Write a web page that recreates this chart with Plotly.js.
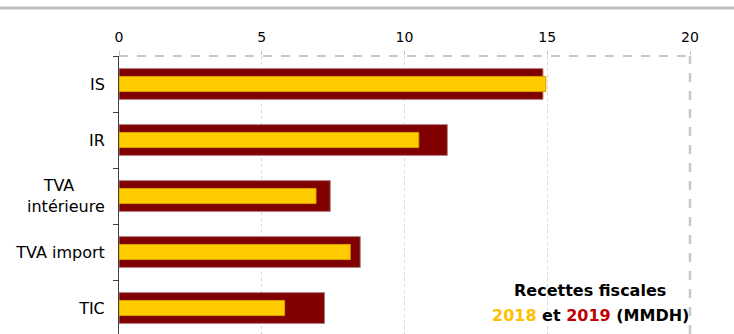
<!DOCTYPE html>
<html>
<head>
<meta charset="utf-8">
<script src="https://cdn.plot.ly/plotly-3.0.1.min.js"></script>
<style>html,body{margin:0;padding:0;background:#fff;}#chart{width:734px;height:334px;}</style>
</head>
<body>
<div id="chart"></div>
<script>
const categories = ["IS", "IR", "TVA\u00a0\u00a0\u00a0\u00a0\u00a0\u00a0<br>intérieure", "TVA import", "TIC"];
const values2019 = [14.85, 11.5, 7.4, 8.45, 7.2];
const values2018 = [14.95, 10.5, 6.9, 8.1, 5.8];
const xTicks = [0, 5, 10, 15, 20];

const traces = [
  {
    type: "bar", orientation: "h", name: "2019",
    y: categories, x: values2019, width: 0.55,
    marker: {color: "#800000", line: {color: "#b08080", width: 1}},
    hoverinfo: "x"
  },
  {
    type: "bar", orientation: "h", name: "2018",
    y: categories, x: values2018, width: 0.27,
    marker: {color: "#FFCC00", line: {color: "#d9a000", width: 1}},
    hoverinfo: "x"
  }
];

const annFont = {family: "DejaVu Sans, sans-serif", size: 16, color: "#000", weight: "bold"};

const layout = {
  width: 734, height: 334,
  margin: {l: 119, r: 44, t: 56, b: 0},
  paper_bgcolor: "#fff", plot_bgcolor: "#fff",
  barmode: "overlay",
  showlegend: false,
  font: {family: "DejaVu Sans, sans-serif", size: 16, color: "#000"},
  xaxis: {
    side: "top", range: [0, 20], tickvals: xTicks, ticktext: xTicks.map(String),
    showgrid: true, gridcolor: "#d9d9d9", griddash: "dot", gridwidth: 1,
    zeroline: false, showline: false,
    ticks: "outside", ticklen: 4, tickcolor: "#bfbfbf",
    ticklabelstandoff: 3,
    tickfont: {size: 14}
  },
  yaxis: {
    type: "category", range: [4.464, -0.5],
    showline: true, linecolor: "#404040", linewidth: 1,
    ticks: "outside", ticklen: 5, tickcolor: "#404040", tickson: "boundaries",
    ticklabelstandoff: 10,
    showgrid: false, zeroline: false,
    tickfont: {size: 16}
  },
  shapes: [
    {type: "line", xref: "paper", yref: "paper", x0: -0.21, x1: 1.08, y0: 1.173, y1: 1.173,
     line: {color: "#bfbfbf", width: 3}},
    {type: "line", xref: "paper", yref: "paper", x0: 0, x1: 1, y0: 1, y1: 1,
     line: {color: "#c8c8c8", width: 2, dash: "dash"}},
    {type: "line", xref: "paper", yref: "paper", x0: 1, x1: 1, y0: 0, y1: 1,
     line: {color: "#c8c8c8", width: 2.5, dash: "dash"}}
  ],
  annotations: [
    {xref: "paper", yref: "paper", x: 0.825, y: 0.1547, xanchor: "center", yanchor: "middle",
     showarrow: false, font: annFont, text: "<b>Recettes fiscales</b>"},
    {xref: "paper", yref: "paper", x: 0.825, y: 0.0683, xanchor: "center", yanchor: "middle",
     showarrow: false, font: annFont,
     text: "<b><span style=\"color:#FFC000\">2018</span> et <span style=\"color:#C00000\">2019</span> (MMDH)</b>"}
  ]
};

Plotly.newPlot("chart", traces, layout, {displayModeBar: false, staticPlot: true});
</script>
</body>
</html>
